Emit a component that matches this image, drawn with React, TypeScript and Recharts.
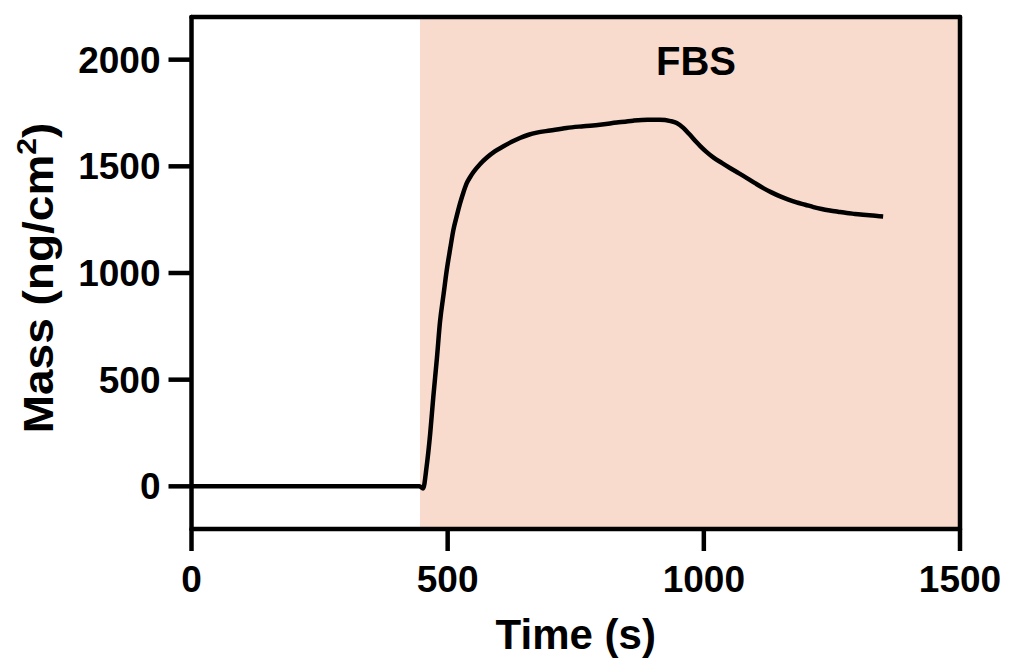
import {
  Label,
  Line,
  LineChart,
  ReferenceArea,
  ReferenceLine,
  XAxis,
  YAxis,
} from "recharts";

// QCM trace
const timeS = [
  0, 100, 200, 300, 400, 445, 452, 459, 466, 472, 479, 485, 492, 498, 505,
  511, 518, 524, 531, 537, 544, 550, 563, 576, 592, 609, 625, 641, 658, 674,
  700, 732, 765, 797, 830, 862, 890, 914, 935, 947, 960, 972, 985, 993, 1005,
  1019, 1035, 1051, 1068, 1084, 1100, 1116, 1132, 1149, 1165, 1181, 1198,
  1214, 1230, 1246, 1262, 1279, 1295, 1311, 1330, 1350,
];
const massNg = [
  0, 0, 0, 0, 0, 0, -10, 94, 250, 420, 600, 770, 900, 1010, 1115, 1200, 1270,
  1325, 1380, 1420, 1450, 1472, 1510, 1540, 1570, 1594, 1615, 1633, 1648,
  1658, 1668, 1680, 1688, 1695, 1705, 1714, 1718, 1718, 1712, 1703, 1680,
  1650, 1615, 1595, 1568, 1541, 1516, 1492, 1468, 1445, 1421, 1398, 1378,
  1359, 1344, 1331, 1320, 1309, 1300, 1293, 1287, 1281, 1277, 1273, 1269,
  1265,
];

const xTicks = [0, 500, 1000, 1500];
const yTicks = [0, 500, 1000, 1500, 2000];
const xDomain = [0, 1500];
const yDomain = [-200, 2200];
const fbsStart = 446;
const fbsEnd = 1500;

const data = timeS.map((t, i) => ({ t, mass: massNg[i] }));

const FONT = "Arial, 'Liberation Sans', Helvetica, sans-serif";
const axisStroke = { stroke: "#000", strokeWidth: 4.5, strokeLinecap: "round" as const };
const tickFont = { fill: "#000", fontSize: 37, fontWeight: "bold", fontFamily: FONT };

function MassLabel(props: any) {
  const vb = props.viewBox || { x: 0 };
  const x = vb.x + 53;
  const y = 278;
  return (
    <text
      transform={`translate(${x}, ${y}) rotate(-90) scale(1.07, 1)`}
      textAnchor="middle"
      fontFamily={FONT}
      fontWeight="bold"
      fontSize={43}
      fill="#000"
    >
      Mass (ng/cm
      <tspan fontSize={28} dy={-17}>
        2
      </tspan>
      <tspan dy={17}>)</tspan>
    </text>
  );
}

function FbsLabel(props: any) {
  const vb = props.viewBox;
  if (!vb) return null;
  return (
    <text
      x={vb.x + vb.width / 2 + 6}
      y={vb.y + 58}
      textAnchor="middle"
      fontFamily={FONT}
      fontWeight="bold"
      fontSize={40}
      fill="#000"
    >
      FBS
    </text>
  );
}

export default function App() {
  return (
    <div
      style={{
        position: "absolute",
        left: 0,
        top: 0,
        width: 1009,
        height: 667,
        background: "#fff",
      }}
    >
      <LineChart
        width={1009}
        height={667}
        data={data}
        margin={{ top: 17, right: 49, bottom: 0, left: 0 }}
      >
        <ReferenceArea
          x1={fbsStart}
          x2={fbsEnd}
          y1={yDomain[0]}
          y2={yDomain[1]}
          fill="#f9dbce"
          fillOpacity={1}
          stroke="none"
          label={<FbsLabel />}
        />
        <ReferenceLine y={yDomain[1]} {...axisStroke} />
        <ReferenceLine x={xDomain[1]} {...axisStroke} />
        <XAxis
          dataKey="t"
          type="number"
          domain={xDomain}
          ticks={xTicks}
          height={138}
          tickSize={22}
          tickMargin={15}
          axisLine={axisStroke}
          tickLine={{ stroke: "#000", strokeWidth: 4.5 }}
          tick={tickFont}
        >
          <Label
            value="Time (s)"
            position="insideBottom"
            offset={18}
            fill="#000"
            fontSize={42}
            fontWeight="bold"
            fontFamily={FONT}
          />
        </XAxis>
        <YAxis
          type="number"
          domain={yDomain}
          ticks={yTicks}
          width={191.5}
          tickSize={23}
          tickMargin={8}
          axisLine={axisStroke}
          tickLine={{ stroke: "#000", strokeWidth: 4.5 }}
          tick={tickFont}
          label={<MassLabel />}
        />
        <Line
          type="monotone"
          dataKey="mass"
          stroke="#000"
          strokeWidth={4.5}
          dot={false}
          isAnimationActive={false}
        />
      </LineChart>
    </div>
  );
}
